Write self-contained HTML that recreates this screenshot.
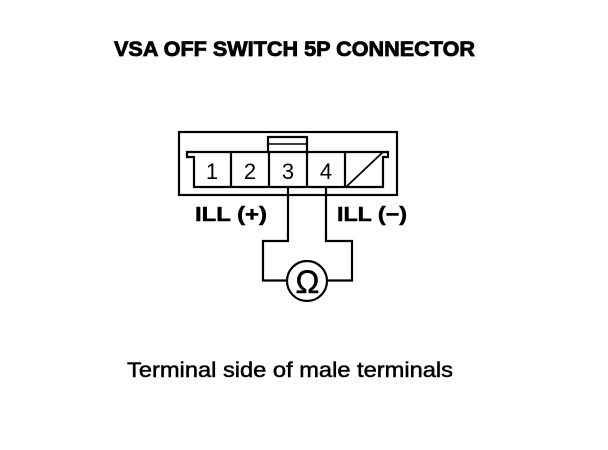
<!DOCTYPE html>
<html>
<head>
<meta charset="utf-8">
<style>
html,body{margin:0;padding:0;background:#fff;width:608px;height:450px;overflow:hidden}
svg{display:block}
text{font-family:"Liberation Sans",sans-serif;fill:#000}
</style>
</head>
<body>
<svg width="608" height="450" viewBox="0 0 608 450" xmlns="http://www.w3.org/2000/svg">
<text x="114" y="56" font-size="21" font-weight="bold" stroke="#000" stroke-width=".8" textLength="361" lengthAdjust="spacingAndGlyphs">VSA OFF SWITCH 5P CONNECTOR</text>
<g fill="none" stroke="#000" stroke-width="2.2">
<rect x="179" y="132" width="218" height="63"/>
<path d="M268 152V137H307V152"/>
<path d="M269 144H307" stroke-width="1.5"/>
<path d="M187 152H388V157H383V187H194V157H187Z"/>
<path d="M231 152V187M269 152V187M307 152V187M345 152V187"/>
<path d="M346 187L383 152" stroke-width="1.8"/>
<path d="M288 187V241H263V280.500H287M326 187V241H352V280.500H327"/>
<circle cx="307" cy="281" r="20"/>
</g>
<g font-size="22" text-anchor="middle">
<text x="212" y="179">1</text>
<text x="250" y="179">2</text>
<text x="288" y="179">3</text>
<text x="326" y="179">4</text>
<text x="307.500" y="293" font-size="32" stroke="#000" stroke-width=".5">Ω</text>
</g>
<text x="195" y="221" font-size="20" font-weight="bold" stroke="#000" stroke-width=".5" textLength="72" lengthAdjust="spacingAndGlyphs">ILL (+)</text>
<text x="337" y="221" font-size="20" font-weight="bold" stroke="#000" stroke-width=".5" textLength="70" lengthAdjust="spacingAndGlyphs">ILL (−)</text>
<text x="127" y="377" font-size="21" stroke="#000" stroke-width=".5" textLength="326" lengthAdjust="spacingAndGlyphs">Terminal side of male terminals</text>
</svg>
</body>
</html>
